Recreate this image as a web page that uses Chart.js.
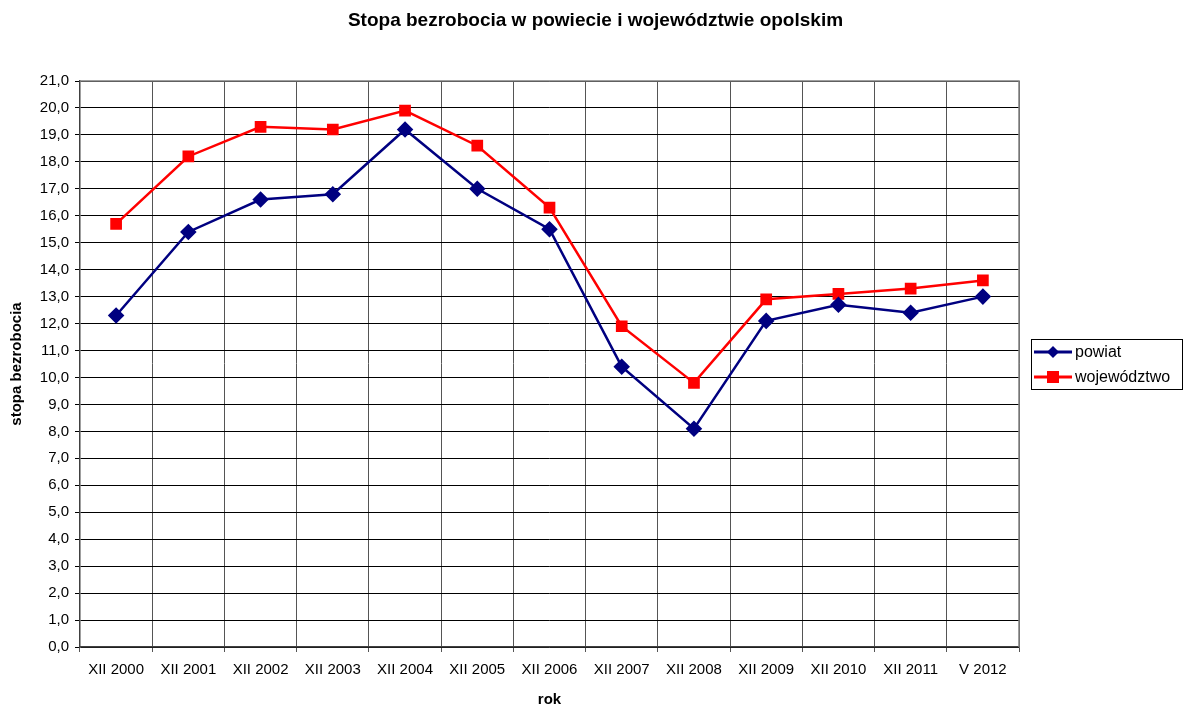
<!DOCTYPE html>
<html>
<head>
<meta charset="utf-8">
<script src="https://cdn.jsdelivr.net/npm/chart.js@4.4.1/dist/chart.umd.min.js"></script>
<style>
  body { margin: 0; background: #fff; }
  #chart { display: block; }
</style>
</head>
<body>
<canvas id="chart" width="1183" height="709"></canvas>
<script>
var categories = ['XII 2000','XII 2001','XII 2002','XII 2003','XII 2004','XII 2005','XII 2006','XII 2007','XII 2008','XII 2009','XII 2010','XII 2011','V 2012'];
var powiat = [12.3, 15.4, 16.6, 16.8, 19.2, 17.0, 15.5, 10.4, 8.1, 12.1, 12.7, 12.4, 13.0];
var wojewodztwo = [15.7, 18.2, 19.3, 19.2, 19.9, 18.6, 16.3, 11.9, 9.8, 12.9, 13.1, 13.3, 13.6];
var seriesNames = ['powiat', 'województwo'];

var FONT = 'Arial, "Liberation Sans", sans-serif';

// legend in a box on the right, like the original
var boxLegend = {
  id: 'boxLegend',
  afterDraw: function(chart)
  {
    var ctx = chart.ctx;
    var x = 1031, y = 339, w = 151, h = 50;
    ctx.save();
    ctx.strokeStyle = '#000';
    ctx.lineWidth = 1;
    ctx.strokeRect(x + 0.5, y + 0.5, w, h);
    ctx.font = '16px ' + FONT;
    ctx.textBaseline = 'middle';
    chart.data.datasets.forEach(function(ds, i)
    {
      var ly = y + 13 + i * 25;
      ctx.strokeStyle = ds.borderColor;
      ctx.lineWidth = 3;
      ctx.beginPath();
      ctx.moveTo(x + 3, ly);
      ctx.lineTo(x + 41, ly);
      ctx.stroke();
      ctx.fillStyle = ds.pointBackgroundColor;
      ctx.beginPath();
      if(ds.pointStyle == 'rectRot')
      {
        ctx.moveTo(x + 22, ly - 6);
        ctx.lineTo(x + 28, ly);
        ctx.lineTo(x + 22, ly + 6);
        ctx.lineTo(x + 16, ly);
        ctx.closePath();
        ctx.fill();
      }
      else ctx.fillRect(x + 16, ly - 6, 12, 12);
      ctx.fillStyle = '#000';
      ctx.fillText(ds.label, x + 44, ly + 1);
    });
    ctx.restore();
  }
};

// gray frame round the top and right of the plot area
var plotFrame = {
  id: 'plotFrame',
  beforeDatasetsDraw: function(chart)
  {
    var a = chart.chartArea, ctx = chart.ctx;
    ctx.save();
    ctx.strokeStyle = '#808080';
    ctx.lineWidth = 1.5;
    ctx.beginPath();
    ctx.moveTo(a.left, a.top);
    ctx.lineTo(a.right, a.top);
    ctx.lineTo(a.right, a.bottom);
    ctx.stroke();
    ctx.restore();
  }
};

new Chart(document.getElementById('chart').getContext('2d'), {
  type: 'line',
  data: {
    labels: categories,
    datasets: [
      {
        label: seriesNames[0],
        data: powiat,
        borderColor: '#000080',
        backgroundColor: '#000080',
        pointBackgroundColor: '#000080',
        pointBorderColor: '#000080',
        pointStyle: 'rectRot',
        pointRadius: 6.5,
        borderWidth: 2.5,
        tension: 0
      },
      {
        label: seriesNames[1],
        data: wojewodztwo,
        borderColor: '#ff0000',
        backgroundColor: '#ff0000',
        pointBackgroundColor: '#ff0000',
        pointBorderColor: '#ff0000',
        pointStyle: 'rect',
        pointRadius: 6.5,
        borderWidth: 2.5,
        tension: 0
      }
    ]
  },
  options: {
    responsive: false,
    animation: false,
    layout: { padding: { left: 8, right: 0, top: 0, bottom: 0 } },
    plugins: {
      legend: { display: false },
      tooltip: { enabled: false },
      title: {
        display: true,
        text: 'Stopa bezrobocia w powiecie i województwie opolskim',
        color: '#000',
        font: { family: FONT, size: 19, weight: 'bold' },
        padding: { top: 9, bottom: 49.2 }
      }
    },
    scales: {
      x: {
        offset: true,
        afterFit: function(s) { s.height = 62; },
        grid: { offset: true, color: '#555', lineWidth: 1, tickLength: 5, drawTicks: true },
        border: { color: '#404040', width: 1.5 },
        ticks: { color: '#000', font: { family: FONT, size: 15 }, padding: 9, maxRotation: 0, autoSkip: false },
        title: { display: true, text: 'rok', color: '#000', font: { family: FONT, size: 15, weight: 'bold' }, padding: { top: 0, bottom: 0 } }
      },
      y: {
        min: 0,
        max: 21,
        afterFit: function(s) { s.width = 72; },
        grid: { color: '#000', lineWidth: 1, tickLength: 5 },
        border: { color: '#404040', width: 1.5 },
        ticks: {
          stepSize: 1,
          color: '#000',
          font: { family: FONT, size: 15 },
          padding: 6,
          callback: function(v) { return v.toFixed(1).replace('.', ','); }
        },
        title: { display: true, text: 'stopa bezrobocia', color: '#000', font: { family: FONT, size: 15, weight: 'bold' }, padding: { top: 0, bottom: 0 } }
      },
      // empty axis that keeps room for the legend on the right
      side: {
        position: 'right',
        afterFit: function(s) { s.width = 164; },
        grid: { display: false },
        border: { display: false },
        ticks: { display: false }
      }
    }
  },
  plugins: [plotFrame, boxLegend]
});
</script>
</body>
</html>
